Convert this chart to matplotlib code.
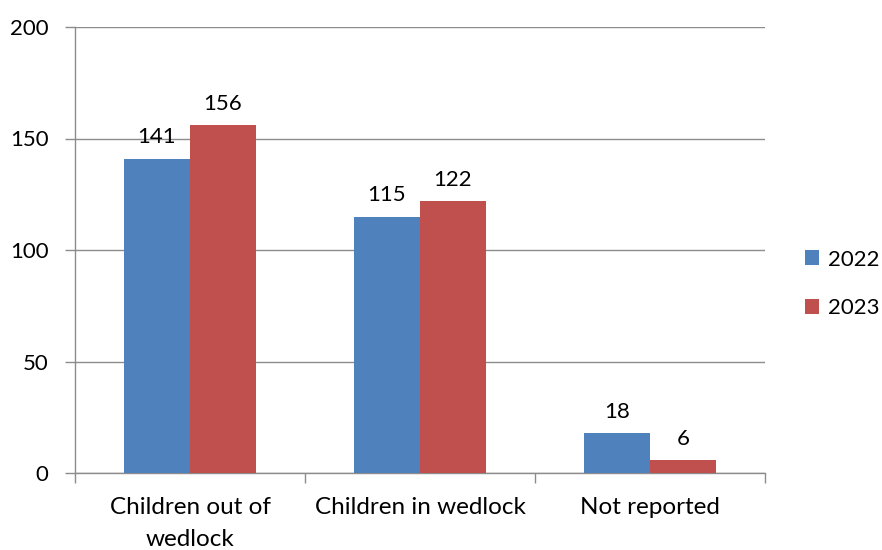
import matplotlib
matplotlib.use("Agg")
import matplotlib.pyplot as plt
import numpy as np

categories = ["Children out of\nwedlock", "Children in wedlock", "Not reported"]
series_names = ["2022", "2023"]
values_2022 = [141, 115, 18]
values_2023 = [156, 122, 6]
y_ticks = [0, 50, 100, 150, 200]

plt.rcParams['font.family'] = ['Lato', 'DejaVu Sans']
colors = ["#4F81BD", "#C0504D"]
gray = "#8C8C8C"
fs = 16
fs_cat = 17.5

fig = plt.figure(figsize=(8.82, 5.5), dpi=100)
ax = fig.add_axes([75/882, 77/550, 690/882, 446/550])

x = np.arange(len(categories))
w = 0.287
b1 = ax.bar(x - w/2, values_2022, w, color=colors[0], label=series_names[0], zorder=3)
b2 = ax.bar(x + w/2, values_2023, w, color=colors[1], label=series_names[1], zorder=3)

for bars, vals in ((b1, values_2022), (b2, values_2023)):
    for r, v in zip(bars, vals):
        ax.annotate(str(v), (r.get_x() + r.get_width()/2, v), xytext=(0, 8),
                    textcoords="offset points", ha="center", va="bottom", fontsize=fs)

ax.set_xlim(-0.5, 2.5)
ax.set_ylim(0, 200)
ax.set_yticks(y_ticks)
ax.set_yticklabels([str(t) for t in y_ticks], fontsize=fs)
ax.yaxis.grid(True, color=gray, linewidth=1, zorder=0)
ax.set_axisbelow(True)
ax.set_xticks([-0.5, 0.5, 1.5, 2.5])
ax.set_xticklabels([])
ax.set_xticks(x, minor=True)
ax.set_xticklabels(categories, minor=True, fontsize=fs_cat, linespacing=1.65)
ax.tick_params(axis='x', which='minor', length=0, pad=17)
ax.tick_params(axis='x', which='major', length=7, color=gray, width=1)
ax.tick_params(axis='y', length=7, color=gray, width=1, pad=12)
for s in ("top", "right"):
    ax.spines[s].set_visible(False)
for s in ("left", "bottom"):
    ax.spines[s].set_color(gray)
    ax.spines[s].set_linewidth(1)

leg = fig.legend(handles=[b1, b2], labels=series_names, loc="center left",
                 bbox_to_anchor=(805/882, 1 - 284/550), frameon=False, fontsize=fs,
                 borderpad=0, borderaxespad=0,
                 handlelength=0.65, handleheight=0.65, handletextpad=0.4, labelspacing=1.3)

fig.savefig("out.png", dpi=100)
